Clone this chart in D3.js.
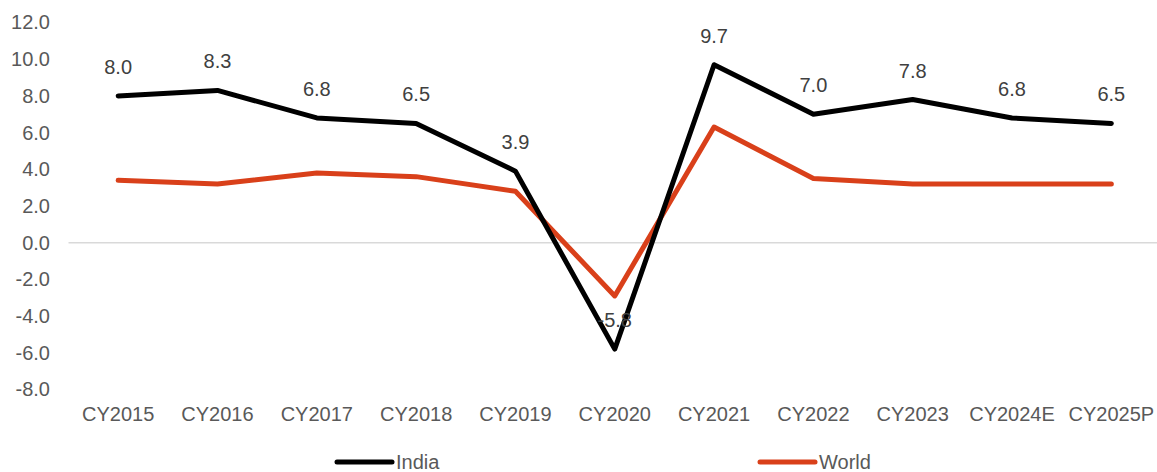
<!DOCTYPE html>
<html>
<head>
<meta charset="utf-8">
<script src="https://cdn.jsdelivr.net/npm/d3@7/dist/d3.min.js"></script>
<style>
  html, body { margin: 0; padding: 0; background: #ffffff; }
  svg { display: block; }
  text { font-family: "Liberation Sans", Arial, sans-serif; }
</style>
</head>
<body>
<svg id="chart" width="1157" height="472"></svg>
<script>
// GDP growth, % year-on-year
const categories = ["CY2015", "CY2016", "CY2017", "CY2018", "CY2019", "CY2020",
                    "CY2021", "CY2022", "CY2023", "CY2024E", "CY2025P"];
const india = [8.0, 8.3, 6.8, 6.5, 3.9, -5.8, 9.7, 7.0, 7.8, 6.8, 6.5];
const world = [3.4, 3.2, 3.8, 3.6, 2.8, -2.9, 6.3, 3.5, 3.2, 3.2, 3.2];
const yTicks = [12, 10, 8, 6, 4, 2, 0, -2, -4, -6, -8];

const svg = d3.select("#chart");

const x = d3.scaleBand().domain(categories).range([68.5, 1161]).padding(0);
const y = d3.scaleLinear().domain([-8, 12]).range([389.5, 22.5]);
const cx = d => x(d) + x.bandwidth() / 2;

// zero line
svg.append("line")
  .attr("x1", 68.5).attr("x2", 1157)
  .attr("y1", y(0)).attr("y2", y(0))
  .attr("stroke", "#d9d9d9").attr("stroke-width", 1.5);

// y axis labels
const yAxis = d3.axisLeft(y).tickValues(yTicks).tickSize(0).tickPadding(0)
  .tickFormat(d3.format(".1f"));
const gy = svg.append("g").attr("transform", "translate(50,0)").call(yAxis);
gy.select(".domain").remove();
gy.selectAll("text")
  .attr("fill", "#595959").style("font-size", "20px")
  .style("font-family", "'Liberation Sans', Arial, sans-serif")
  .text(d => d3.format(".1f")(d).replace("−", "-"));

// x axis labels
const xAxis = d3.axisBottom(x).tickSize(0).tickPadding(0);
const gx = svg.append("g").attr("transform", "translate(0,407)").call(xAxis);
gx.select(".domain").remove();
gx.selectAll("text")
  .attr("fill", "#595959").style("font-size", "20px")
  .style("font-family", "'Liberation Sans', Arial, sans-serif");

// series lines
const line = d3.line().x((d, i) => cx(categories[i])).y(d => y(d));
svg.append("path").datum(world)
  .attr("d", line).attr("fill", "none")
  .attr("stroke", "#d9401a").attr("stroke-width", 5)
  .attr("stroke-linejoin", "round").attr("stroke-linecap", "round");
svg.append("path").datum(india)
  .attr("d", line).attr("fill", "none")
  .attr("stroke", "#000000").attr("stroke-width", 5)
  .attr("stroke-linejoin", "round").attr("stroke-linecap", "round");

// India value labels
svg.append("g").selectAll("text").data(india).join("text")
  .attr("x", (d, i) => cx(categories[i]))
  .attr("y", d => y(d) - 22)
  .attr("text-anchor", "middle")
  .attr("fill", "#404040").style("font-size", "20px")
  .text(d => d3.format(".1f")(d).replace("−", "-"));

// legend
const legend = [
  { name: "India", color: "#000000", x: 337 },
  { name: "World", color: "#d9401a", x: 760 }
];
const lg = svg.append("g").selectAll("g").data(legend).join("g");
lg.append("line")
  .attr("x1", d => d.x).attr("x2", d => d.x + 55)
  .attr("y1", 462).attr("y2", 462)
  .attr("stroke", d => d.color).attr("stroke-width", 5)
  .attr("stroke-linecap", "round");
lg.append("text")
  .attr("x", d => d.x + 59).attr("y", 469)
  .attr("fill", "#595959").style("font-size", "20px")
  .text(d => d.name);
</script>
</body>
</html>
